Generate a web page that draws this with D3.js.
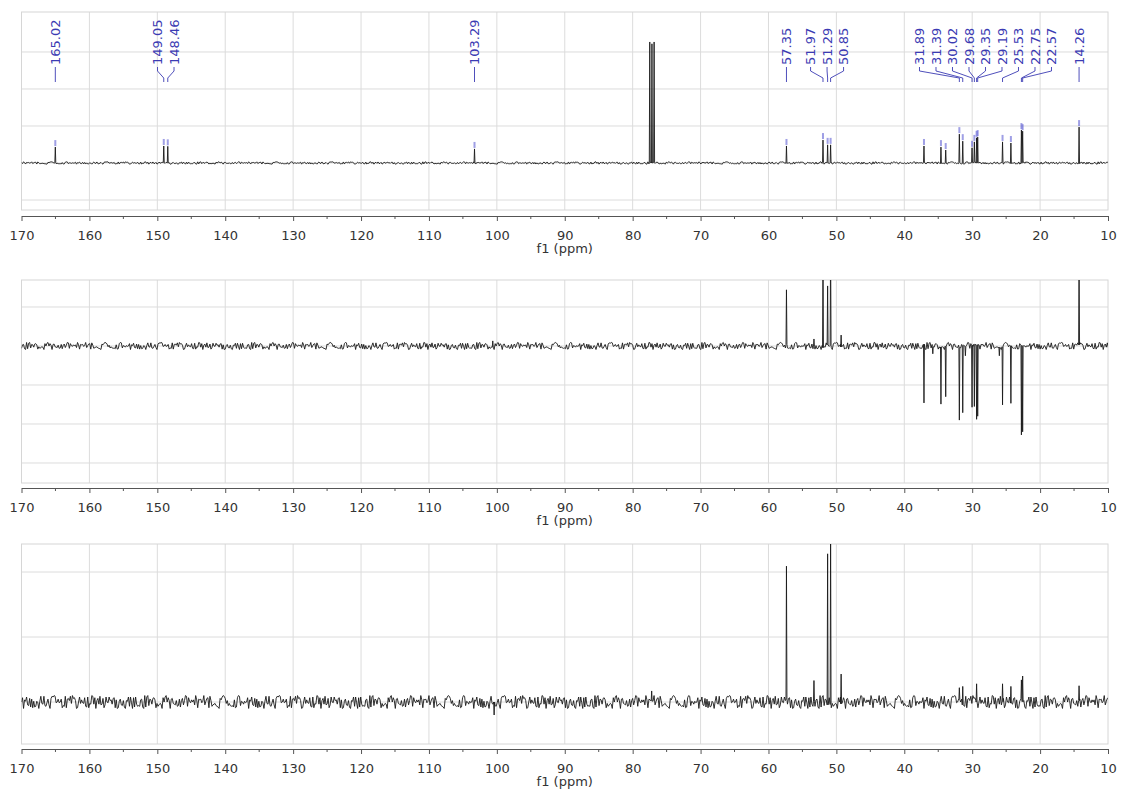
<!DOCTYPE html>
<html>
<head>
<meta charset="utf-8">
<script src="https://cdn.jsdelivr.net/npm/d3@7"></script>
<style>
  body { margin: 0; background: #fff; font-family: "DejaVu Sans", sans-serif; }
  .tick text { fill: #333; }
</style>
</head>
<body>
<div id="chart"></div>
<script>
// ppm axis ticks
const majorTicks = [170, 160, 150, 140, 130, 120, 110, 100, 90, 80, 70, 60, 50, 40, 30, 20, 10];
const minorTicks = [165, 155, 145, 135, 125, 115, 105, 95, 85, 75, 65, 55, 45, 35, 25, 15];

// 13C spectrum peaks: [ppm, intensity]
const c13Peaks = [
  [165.02, 0.43], [149.05, 0.46], [148.46, 0.45], [103.29, 0.38],
  [57.35, 0.46], [51.97, 0.62], [51.29, 0.49], [50.85, 0.49],
  [37.10, 0.46], [34.60, 0.43], [33.90, 0.35],
  [31.89, 0.78], [31.39, 0.59], [30.02, 0.41], [29.68, 0.57], [29.35, 0.68], [29.19, 0.70],
  [25.53, 0.57], [24.30, 0.54], [22.75, 0.89], [22.57, 0.86], [14.26, 0.97]
];
// CDCl3 triplet
const solventPeaks = [[77.48, 3.27], [77.16, 3.22], [76.84, 3.27]];

const c13Labels = ["165.02", "149.05", "148.46", "103.29", "57.35", "51.97", "51.29", "50.85",
  "31.89", "31.39", "30.02", "29.68", "29.35", "29.19", "25.53", "22.75", "22.57", "14.26"];

// DEPT-135 peaks (CH2 negative)
const dept135Peaks = [
  [100.6, 0.13], [57.35, 1.44], [53.3, 0.18], [51.97, 2.5], [51.29, 1.54], [50.85, 2.6], [49.3, 0.28],
  [37.10, -1.46], [35.8, -0.2], [34.60, -1.49], [33.90, -1.30], [31.89, -1.90], [31.39, -1.71],
  [31.0, -0.25], [30.02, -1.57], [29.68, -1.55], [29.35, -1.88], [29.19, -1.80], [26.0, -0.25],
  [25.53, -1.51], [24.30, -1.47], [22.75, -2.28], [22.57, -2.20], [14.26, 2.4]
];

// DEPT-90 peaks
const dept90Peaks = [
  [100.4, -0.2], [77.2, 0.17], [57.35, 2.09], [53.3, 0.33], [51.29, 2.28], [50.85, 2.6], [49.3, 0.43],
  [31.89, 0.22], [31.39, 0.24], [29.35, 0.28], [25.53, 0.28], [24.30, 0.24], [22.75, 0.34],
  [22.57, 0.40], [14.26, 0.25]
];

// baseline noise, read as a relative amplitude
const noise = [0.3,-0.6,0.8,-0.2,-0.9,0.5,0.1,-0.4,0.7,-0.8,0.2,0.6,-0.3,-0.7,0.9,-0.1,0.4,-0.5,0.0,0.8,
  -0.6,0.3,-0.9,0.5,-0.2,0.7,-0.4,0.1,-0.8,0.6,0.2,-0.5,0.9,-0.3,-0.1,0.4,-0.7,0.8,-0.6,0.0,
  0.5,-0.9,0.3,0.7,-0.2,-0.5,0.6,-0.8,0.1,0.4,-0.3,0.9,-0.7,0.2,-0.4,0.8,-0.1,-0.6,0.5,0.3,
  -0.9,0.7,-0.2,0.1,-0.5,0.6,-0.8,0.4,0.0,-0.3,0.9,-0.6,0.2,-0.7,0.5,-0.1,0.8,-0.4,0.3,-0.9,
  0.6,-0.2,0.7,-0.5,0.1,0.4,-0.8,0.9,-0.3,0.2,-0.6,0.5,-0.7,0.0,0.8,-0.4,0.3,-0.1,0.6,-0.9,
  0.7,-0.5,0.2,-0.3,0.4,-0.8,0.9,-0.2,0.1,-0.6,0.5,-0.4,0.8,-0.7,0.3,0.0,-0.5,0.6,-0.9,0.2,
  0.7,-0.1,-0.3,0.4,-0.8,0.5,-0.6,0.9,-0.2,0.1,-0.7,0.3,0.8,-0.4,-0.5,0.6,-0.1,0.2,-0.9,0.7,
  -0.3,0.4,-0.6,0.0,0.5,-0.8,0.9,-0.2,0.3,-0.7,0.6,-0.4,0.1,0.8,-0.5,-0.3,0.7,-0.9,0.2,0.4,
  -0.1,-0.6,0.5,-0.8,0.3,0.9,-0.4,0.0,-0.7,0.6,-0.2,0.1,0.8,-0.5,0.4,-0.9,0.3,-0.3,0.7,-0.6,
  0.2,-0.1,0.5,-0.8,0.9,-0.4,0.6,-0.7,0.0,0.3,-0.2,0.8,-0.5,0.1,-0.9,0.4,0.7,-0.6,-0.3,0.5,
  -0.1,0.2,-0.8,0.9,-0.4,0.6,-0.7,0.3,0.1,-0.5,0.8,-0.2,-0.9,0.4,0.0,0.7,-0.6,0.5,-0.3,0.2,-0.8];

const width = 1121, height = 791;
const x = d3.scaleLinear().domain([170, 10]).range([21.5, 1108]);

const svg = d3.select("#chart").append("svg")
  .attr("width", width)
  .attr("height", height);

const panels = [
  {peaks: c13Peaks.concat(solventPeaks), amp: 0.035, offset: 0, top: 12, bottom: 210, axisY: 216, domain: [-1.27, 4.08], grid: [-1, 0, 1, 2, 3]},
  {peaks: dept135Peaks, amp: 0.1, offset: 71, top: 280, bottom: 483, axisY: 488, domain: [-3.513, 1.692], grid: [-3, -2, -1, 0, 1]},
  {peaks: dept90Peaks, amp: 0.11, offset: 143, top: 544, bottom: 744, axisY: 749, domain: [-0.646, 2.431], grid: [0, 1, 2]}
];

// baseline samples every 0.15 ppm plus a narrow spike for each peak
function spectrum(peaks, amp, offset) {
  const pts = [];
  const step = 0.15;
  const n = Math.round((170 - 10) / step);
  for (let i = 0; i <= n; i++) {
    const ppm = 170 - i * step;
    if (peaks.some(p => Math.abs(p[0] - ppm) < 0.1)) continue;
    pts.push([ppm, amp * noise[(i * 7 + offset) % noise.length]]);
  }
  peaks.forEach(([ppm, h], k) => {
    const b = amp * 0.5 * noise[(k * 5 + offset) % noise.length];
    pts.push([ppm + 0.07, b], [ppm, h], [ppm - 0.07, b]);
  });
  return pts.sort((a, b) => b[0] - a[0]);
}

panels.forEach((p, idx) => {
  const y = d3.scaleLinear().domain(p.domain).range([p.bottom, p.top]);
  const g = svg.append("g");

  g.append("clipPath").attr("id", "clip" + idx)
    .append("rect")
    .attr("x", x(170)).attr("y", p.top)
    .attr("width", x(10) - x(170)).attr("height", p.bottom - p.top);

  // grid
  g.selectAll(".vgrid")
    .data(majorTicks.slice(1, -1))
    .enter().append("line")
    .attr("x1", d => x(d)).attr("x2", d => x(d))
    .attr("y1", p.top).attr("y2", p.bottom)
    .attr("stroke", "#dcdcdc");
  g.selectAll(".hgrid")
    .data(p.grid)
    .enter().append("line")
    .attr("x1", x(170)).attr("x2", x(10))
    .attr("y1", d => y(d)).attr("y2", d => y(d))
    .attr("stroke", "#dcdcdc");
  g.append("rect")
    .attr("x", x(170)).attr("y", p.top)
    .attr("width", x(10) - x(170)).attr("height", p.bottom - p.top)
    .attr("fill", "none").attr("stroke", "#d6d6d6");

  // spectrum line
  const line = d3.line().x(d => x(d[0])).y(d => y(d[1]));
  g.append("path")
    .datum(spectrum(p.peaks, p.amp, p.offset))
    .attr("clip-path", `url(#clip${idx})`)
    .attr("d", line)
    .attr("fill", "none")
    .attr("stroke", "#1a1a1a")
    .attr("stroke-width", 0.9);

  // axis
  const axis = d3.axisBottom(x)
    .tickValues(majorTicks)
    .tickFormat(d3.format("d"))
    .tickSize(5)
    .tickSizeOuter(0)
    .tickPadding(10);
  const ax = g.append("g")
    .attr("transform", `translate(0,${p.axisY})`)
    .call(axis);
  ax.selectAll("text").attr("font-size", 13).attr("font-family", "DejaVu Sans");
  ax.selectAll("path,line").attr("stroke", "#555");
  ax.selectAll(".minor")
    .data(minorTicks)
    .enter().append("line")
    .attr("x1", d => x(d)).attr("x2", d => x(d))
    .attr("y1", 0).attr("y2", 3)
    .attr("stroke", "#555");

  g.append("text")
    .attr("x", (x(170) + x(10)) / 2)
    .attr("y", p.axisY + 37)
    .attr("text-anchor", "middle")
    .attr("font-size", 13)
    .attr("fill", "#333")
    .text("f1 (ppm)");

  if (idx === 0) {
    // peak-picking markers
    g.selectAll(".mark")
      .data(c13Peaks)
      .enter().append("rect")
      .attr("x", d => x(d[0]) - 1)
      .attr("y", d => y(d[1]) - 7)
      .attr("width", 2)
      .attr("height", 6)
      .attr("fill", "#5050d0")
      .attr("opacity", 0.55);

    // spread labels so they do not overlap
    const gap = 16.5;
    const px = c13Labels.map(t => x(+t));
    const clusters = [];
    px.forEach((v, i) => {
      clusters.push({first: i, n: 1, sum: v});
      while (clusters.length > 1) {
        const c = clusters[clusters.length - 1], q = clusters[clusters.length - 2];
        if (q.sum / q.n + q.n * gap > c.sum / c.n) {
          q.sum += c.sum - c.n * q.n * gap;
          q.n += c.n;
          clusters.pop();
        } else break;
      }
    });
    const lx = [];
    clusters.forEach(c => {
      for (let j = 0; j < c.n; j++) lx[c.first + j] = c.sum / c.n + j * gap;
    });

    const lab = g.selectAll(".lab")
      .data(c13Labels)
      .enter().append("g");
    lab.append("path")
      .attr("d", (d, i) => `M${lx[i]},67L${lx[i]},71L${px[i]},78L${px[i]},82`)
      .attr("fill", "none")
      .attr("stroke", "#3b3bb3")
      .attr("stroke-width", 0.9);
    lab.append("text")
      .attr("transform", (d, i) => `translate(${lx[i]},65) rotate(-90)`)
      .attr("dy", "0.36em")
      .attr("font-size", 13)
      .attr("fill", "#3b3bb3")
      .text(d => d);
  }
});
</script>
</body>
</html>
